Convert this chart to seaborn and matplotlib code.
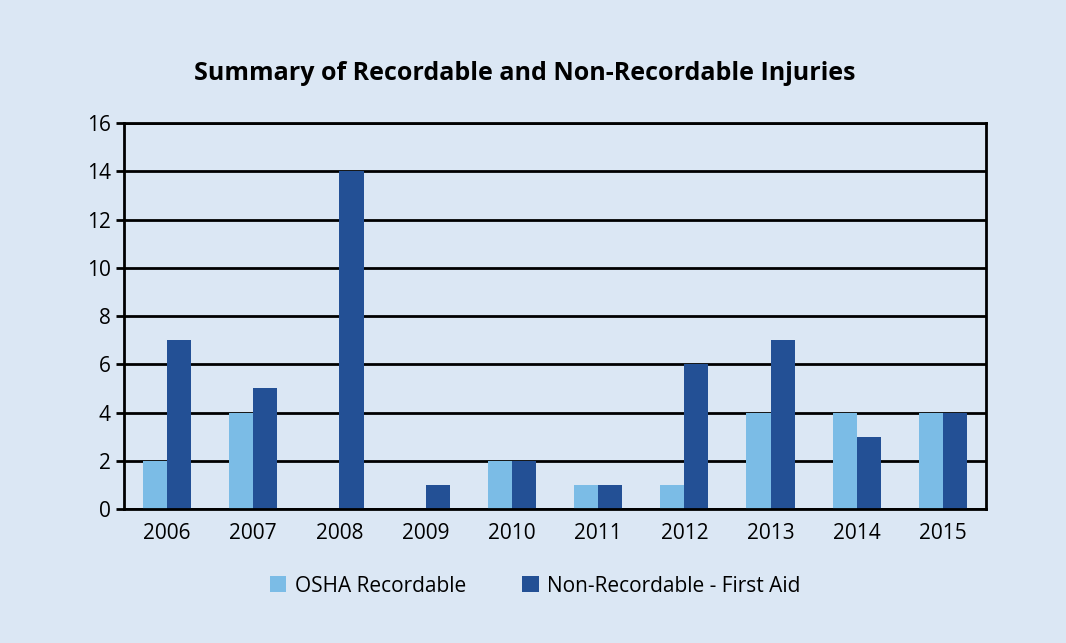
import matplotlib
matplotlib.use("Agg")
import matplotlib.pyplot as plt
import numpy as np
import pandas as pd
import seaborn as sns

years = ["2006", "2007", "2008", "2009", "2010", "2011", "2012", "2013", "2014", "2015"]
osha = [2, 4, 0, 0, 2, 1, 1, 4, 4, 4]
first_aid = [7, 5, 14, 1, 2, 1, 6, 7, 3, 4]
series = ["OSHA Recordable", "Non-Recordable - First Aid"]

BG = "#dbe7f4"
LIGHT = "#7bbce6"
DARK = "#235095"

df = pd.DataFrame({
    "year": years * 2,
    "value": osha + first_aid,
    "series": [series[0]] * len(years) + [series[1]] * len(years),
})

sns.set_theme(style="white")
plt.rcParams["font.family"] = ["Open Sans", "DejaVu Sans"]

fig = plt.figure(figsize=(10.66, 6.43), dpi=100, facecolor=BG)
ax = fig.add_axes([0.1163, 0.2084, 0.8087, 0.6003])
ax.set_facecolor(BG)

sns.barplot(data=df, x="year", y="value", hue="series", order=years, hue_order=series,
            palette=[LIGHT, DARK], width=0.56, gap=0, saturation=1, linewidth=0,
            ax=ax, zorder=3)

ax.set_ylim(0, 16)
ax.set_xlim(-0.5, len(years) - 0.5)
ax.set_yticks(range(0, 17, 2))
ax.yaxis.grid(True, color="black", linewidth=2)
ax.set_axisbelow(True)
for sp in ax.spines.values():
    sp.set_color("black")
    sp.set_linewidth(2)
    sp.set_zorder(4)

ax.set_xticks(np.arange(-0.5, len(years)), minor=True)
ax.tick_params(axis="x", which="major", length=0, labelsize=15, pad=10, colors="black")
ax.tick_params(axis="x", which="minor", length=6, width=2, color="black", direction="out")
ax.tick_params(axis="y", length=6, width=2, labelsize=15, colors="black", direction="out", left=True)
ax.set_xlabel("")
ax.set_ylabel("")

fig.text(0.4925, 0.886, "Summary of Recordable and Non-Recordable Injuries", fontsize=18,
         fontweight="bold", ha="center", va="center", color="black")

handles, labels = ax.get_legend_handles_labels()
leg = ax.legend(handles, labels, loc="center", bbox_to_anchor=(0.477, -0.2), ncol=2,
                frameon=False, fontsize=15, handlelength=0.8, handleheight=0.8,
                columnspacing=2.7, handletextpad=0.4)
for t in leg.get_texts():
    t.set_color("black")

fig.savefig("out.png", dpi=100, facecolor=BG)
